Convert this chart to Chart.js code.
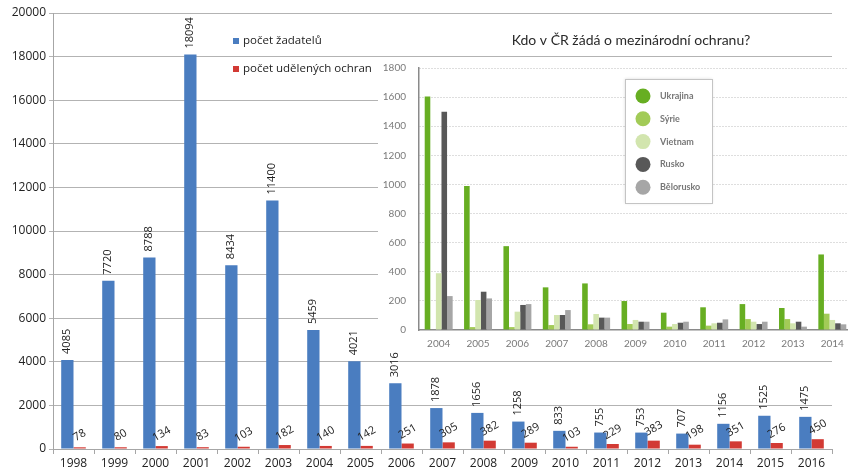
<!DOCTYPE html>
<html>
<head>
<meta charset="utf-8">
<script src="https://cdn.jsdelivr.net/npm/chart.js@4/dist/chart.umd.min.js"></script>
<style>
html, body { margin: 0; padding: 0; background: #fff; overflow: hidden; }
#wrap { position: relative; width: 848px; height: 472px; overflow: hidden; }
#mainChart { position: absolute; left: 0; top: 0; }
#insetChart { position: absolute; left: 378px; top: 49px; }
</style>
</head>
<body>
<div id="wrap">
  <canvas id="mainChart" width="848" height="472"></canvas>
  <canvas id="insetChart" width="480" height="301"></canvas>
</div>
<script>
// main chart
var years = ["1998", "1999", "2000", "2001", "2002", "2003", "2004", "2005", "2006", "2007",
    "2008", "2009", "2010", "2011", "2012", "2013", "2014", "2015", "2016"];
var applicants = [4085, 7720, 8788, 18094, 8434, 11400, 5459, 4021, 3016, 1878,
    1656, 1258, 833, 755, 753, 707, 1156, 1525, 1475];
var granted = [78, 80, 134, 83, 103, 182, 140, 142, 251, 305,
    382, 289, 103, 229, 383, 198, 351, 276, 450];
var mainLabels = ["počet žadatelů", "počet udělených ochran"];
var mainTitle = "Kdo v ČR žádá o mezinárodní ochranu?";

// inset chart
var insetYears = ["2004", "2005", "2006", "2007", "2008", "2009", "2010", "2011", "2012", "2013", "2014"];
var countries = ["Ukrajina", "Sýrie", "Vietnam", "Rusko", "Bělorusko"];
var ukrajina = [1605, 990, 576, 293, 320, 199, 119, 156, 178, 151, 519];
var syrie = [0, 20, 20, 34, 39, 41, 23, 30, 75, 75, 112];
var vietnam = [390, 206, 126, 103, 110, 69, 41, 46, 57, 46, 69];
var rusko = [1500, 263, 172, 103, 85, 57, 50, 50, 41, 57, 46];
var belorusko = [233, 217, 178, 137, 85, 57, 57, 73, 57, 23, 39];

var blue = "#4A7DC0";
var red = "#D23A34";
var greens = ["#67AE22", "#A2CB57", "#D2E5AE", "#585858", "#A6A6A6"];
var mainFont = "'Open Sans', sans-serif";
var insetFont = "Lato, sans-serif";

function plainNumber(v) { return String(v); }

var valueLabels = {
    id: "valueLabels",
    afterDatasetsDraw: function (chart) {
        var ctx = chart.ctx;
        ctx.save();
        ctx.fillStyle = "#222";
        ctx.font = "11px " + mainFont;
        chart.getDatasetMeta(0).data.forEach(function (bar, i) {
            ctx.save();
            ctx.translate(bar.x, bar.y - 6);
            ctx.rotate(-Math.PI / 2);
            ctx.textAlign = "left";
            ctx.textBaseline = "middle";
            ctx.fillText(applicants[i], 0, 0);
            ctx.restore();
        });
        chart.getDatasetMeta(1).data.forEach(function (bar, i) {
            ctx.save();
            ctx.translate(bar.x, bar.y - 12);
            ctx.rotate(-Math.PI / 6);
            ctx.textAlign = "center";
            ctx.textBaseline = "middle";
            ctx.fillText(granted[i], 0, 0);
            ctx.restore();
        });

        // legend + title of the inset
        var cols = [blue, red];
        ctx.font = "11.5px " + mainFont;
        ctx.textAlign = "left";
        ctx.textBaseline = "middle";
        mainLabels.forEach(function (txt, i) {
            var y = 41 + i * 28;
            ctx.fillStyle = cols[i];
            ctx.fillRect(233, y - 3, 6, 6);
            ctx.fillStyle = "#222";
            ctx.fillText(txt, 243, y);
        });
        ctx.font = "14px " + insetFont;
        ctx.fillStyle = "#2a2a2a";
        ctx.textAlign = "center";
        ctx.fillText(mainTitle, 631, 40);
        ctx.restore();
    }
};

new Chart(document.getElementById("mainChart"), {
    type: "bar",
    data: {
        labels: years,
        datasets: [
            { label: mainLabels[0], data: applicants, backgroundColor: blue },
            { label: mainLabels[1], data: granted, backgroundColor: red }
        ]
    },
    options: {
        responsive: false,
        animation: false,
        layout: { padding: { top: 13, right: 16, left: 0, bottom: 0 } },
        datasets: { bar: { categoryPercentage: 0.6, barPercentage: 1 } },
        scales: {
            x: {
                grid: { drawOnChartArea: false, drawTicks: true, tickLength: 5, color: "#a6a6a6" },
                border: { color: "#a6a6a6" },
                ticks: { color: "#222", font: { family: mainFont, size: 12 }, padding: 2, maxRotation: 0 },
                afterFit: function (scale) { scale.height = 23; }
            },
            y: {
                min: 0,
                max: 20000,
                grid: { color: "#b3b3b3", tickLength: 4 },
                border: { color: "#a6a6a6" },
                ticks: { stepSize: 2000, color: "#222", font: { family: mainFont, size: 12 }, padding: 3, callback: plainNumber },
                afterFit: function (scale) { scale.width = 53; }
            }
        },
        plugins: { legend: { display: false }, tooltip: { enabled: false } }
    },
    plugins: [valueLabels]
});

var insetBack = {
    id: "insetBack",
    beforeDraw: function (chart) {
        // white card starts just under the 18000 gridline of the main chart
        var ctx = chart.ctx;
        ctx.save();
        ctx.fillStyle = "#fff";
        ctx.fillRect(0, 10, chart.width, chart.height - 10);
        ctx.restore();
    },
    afterDraw: function (chart) {
        var ctx = chart.ctx;
        ctx.save();
        var bx = 247, by = 30, bw = 87, bh = 124;
        ctx.fillStyle = "#fff";
        ctx.shadowColor = "rgba(0,0,0,0.15)";
        ctx.shadowBlur = 3;
        ctx.fillRect(bx, by, bw, bh);
        ctx.shadowBlur = 0;
        ctx.strokeStyle = "#c4c4c4";
        ctx.lineWidth = 1;
        ctx.strokeRect(bx + 0.5, by + 0.5, bw, bh);
        ctx.font = "bold 9px " + insetFont;
        ctx.textAlign = "left";
        ctx.textBaseline = "middle";
        countries.forEach(function (name, i) {
            var y = 47 + i * 22.8;
            ctx.fillStyle = greens[i];
            ctx.beginPath();
            ctx.arc(265, y, 7.5, 0, Math.PI * 2);
            ctx.fill();
            ctx.fillStyle = "#777";
            ctx.fillText(name, 282, y);
        });
        ctx.restore();
    }
};

var seriesData = [ukrajina, syrie, vietnam, rusko, belorusko];
new Chart(document.getElementById("insetChart"), {
    type: "bar",
    data: {
        labels: insetYears,
        datasets: countries.map(function (c, i) {
            return { label: c, data: seriesData[i], backgroundColor: greens[i] };
        })
    },
    options: {
        responsive: false,
        animation: false,
        layout: { padding: { top: 8, right: 6, left: 0, bottom: 0 } },
        datasets: { bar: { categoryPercentage: 0.71, barPercentage: 1 } },
        scales: {
            x: {
                grid: { display: false },
                border: { color: "#8a8a8a", width: 1.5 },
                ticks: { color: "#7a7a7a", font: { family: insetFont, size: 10 }, padding: 0, maxRotation: 0 },
                afterFit: function (scale) { scale.height = 20; }
            },
            y: {
                min: 0,
                max: 1800,
                grid: {
                    color: function (c) { return c.tick.value === 0 ? "rgba(0,0,0,0)" : "#bcbcbc"; },
                    drawTicks: false
                },
                border: { color: "#8a8a8a", width: 1.5, dash: [1, 2] },
                ticks: { stepSize: 200, color: "#7a7a7a", font: { family: insetFont, size: 10 }, padding: 13, callback: plainNumber },
                afterFit: function (scale) { scale.width = 41; }
            }
        },
        plugins: { legend: { display: false }, tooltip: { enabled: false } }
    },
    plugins: [insetBack]
});
</script>
</body>
</html>
